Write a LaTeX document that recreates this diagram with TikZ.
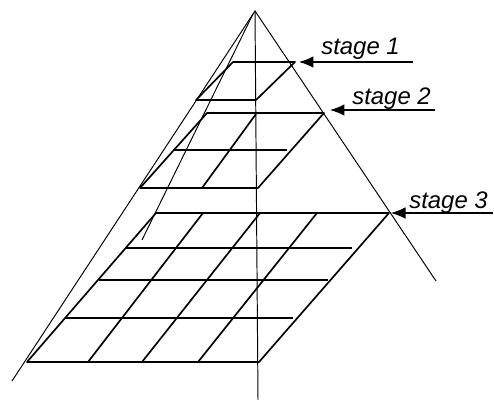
\documentclass[tikz,border=0pt]{standalone}
\usepackage{fontspec}
\setmainfont{Liberation Sans}
\usepackage{xcolor}
\usetikzlibrary{arrows.meta,positioning,calc}
\tikzset{
  axis/.style={draw=black, line width=0.55pt},
  grid/.style={draw=black, line width=0.95pt, line join=round},
  arr/.style={-{Latex[length=2.9mm,width=2.3mm]}, draw=black, line width=0.6pt},
  lbl/.style={font=\fontsize{13.6}{16}\selectfont\itshape, anchor=base west, inner sep=0pt}
}
\begin{document}
\begin{tikzpicture}[x=0.02cm, y=-0.02cm]
  \useasboundingbox (0,0) rectangle (494,401);
  % PYRAMID
  \coordinate (apex) at (255,11);
  \coordinate (apexin) at (253,14);
  \coordinate (right) at (436,281);
  \coordinate (left) at (12,381);
  \coordinate (foot) at (258,400);
  \coordinate (inner) at (142,240);
  \draw[axis] (left) -- (apex) -- (right);
  \draw[axis] (apex) -- (foot);
  \draw[axis] (apexin) -- (inner);
  % STAGE 1
  \coordinate (sa) at (233,62);
  \coordinate (sb) at (295,62);
  \coordinate (sc) at (256,100);
  \coordinate (sd) at (196,100);
  \draw[grid] (sa) -- (sb) -- (sc) -- (sd) -- cycle;
  \coordinate (sat) at (299,62);
  \coordinate (sae) at (413,62);
  \draw[arr] (sae) -- (sat);
  \node[lbl] (sl) at (321,55) {stage 1};
  % STAGE 2
  \coordinate (ta) at (207,113);
  \coordinate (tb) at (324,113);
  \coordinate (tc) at (258,188);
  \coordinate (td) at (140,188);
  \draw[grid] (ta) -- (tb) -- (tc) -- (td) -- cycle;
  \coordinate (tm) at (173,150);
  \coordinate (tn) at (287,150);
  \coordinate (tp) at (256,114);
  \coordinate (tq) at (202,188);
  \draw[grid] (tm) -- (tn);
  \draw[grid] (tp) -- (tq);
  \coordinate (tat) at (330,110);
  \coordinate (tae) at (435,110);
  \draw[arr] (tae) -- (tat);
  \node[lbl] (tl) at (352,105) {stage 2};
  % STAGE 3
  \coordinate (ua) at (156,213);
  \coordinate (ub) at (389,213);
  \coordinate (uc) at (259,362);
  \coordinate (ud) at (27,362);
  \draw[grid] (ua) -- (ub) -- (uc) -- (ud) -- cycle;
  \foreach \i/\xa/\xb/\y in {1/125/352/248, 2/99/328/280, 3/65/293/318} {
    \coordinate (ur\i a) at (\xa,\y);
    \coordinate (ur\i b) at (\xb,\y);
    \draw[grid] (ur\i a) -- (ur\i b);
  }
  \foreach \i/\xa/\xb in {1/203/88, 2/260/142, 3/317/198} {
    \coordinate (uv\i a) at (\xa,213);
    \coordinate (uv\i b) at (\xb,362);
    \draw[grid] (uv\i a) -- (uv\i b);
  }
  \coordinate (uat) at (391,213);
  \coordinate (uae) at (493,213);
  \draw[arr] (uae) -- (uat);
  \node[lbl] (ul) at (409,209) {stage 3};
\end{tikzpicture}
\end{document}
